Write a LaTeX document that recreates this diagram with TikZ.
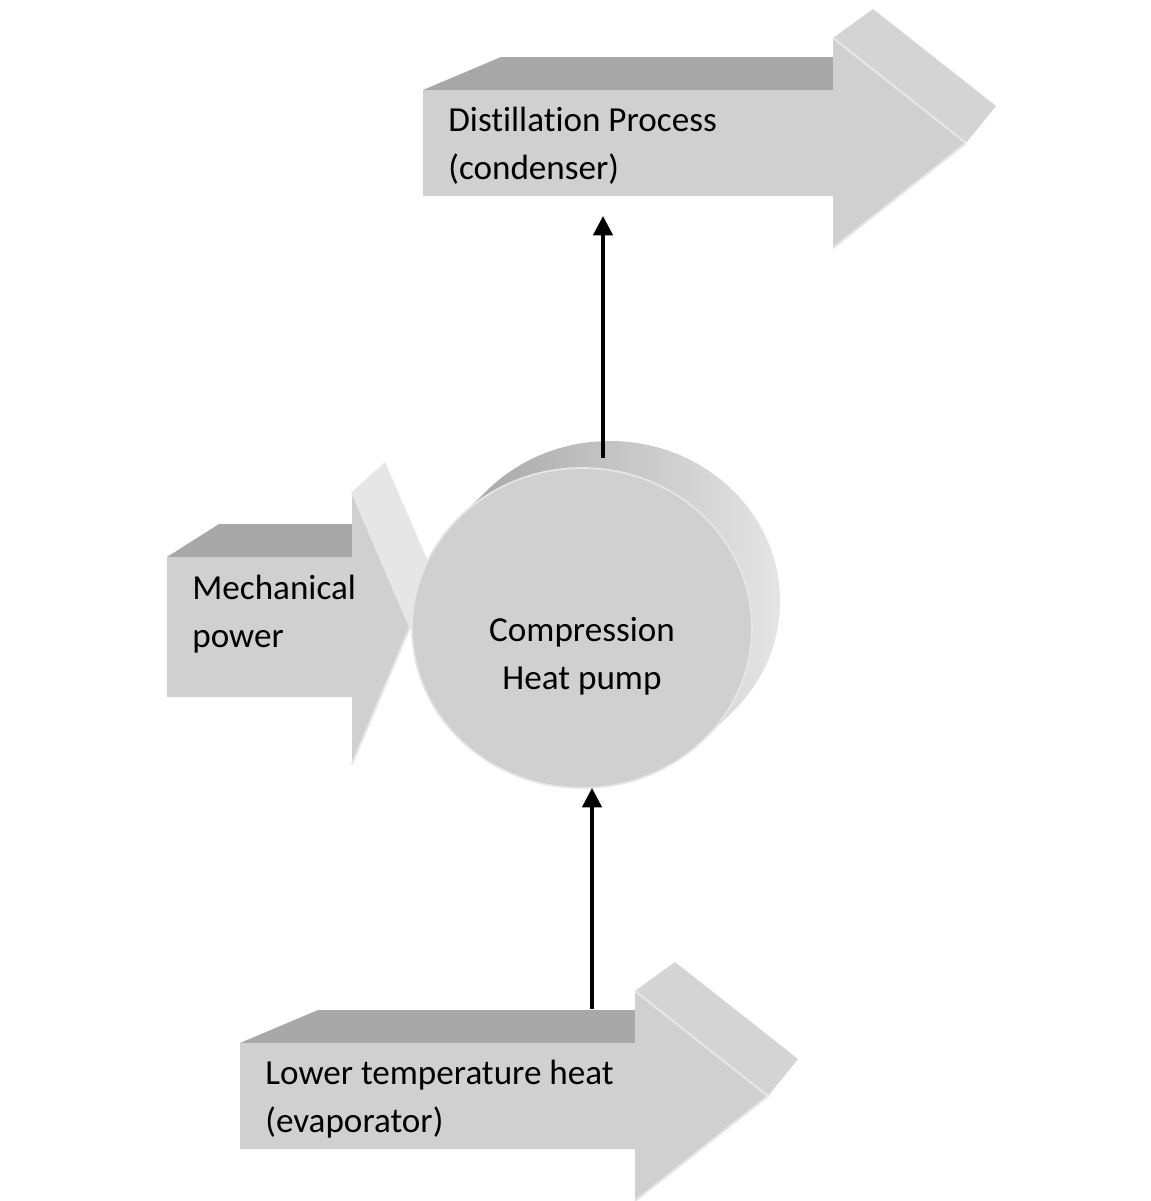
\documentclass[tikz,border=0pt]{standalone}
\usepackage{fontspec}
\setmainfont{Carlito}[Ligatures=NoCommon]
\usetikzlibrary{arrows.meta}
\definecolor{facegray}{HTML}{D0D0D0}
\definecolor{topgray}{HTML}{A8A8A8}
\definecolor{bevelgray}{HTML}{D4D4D4}
\definecolor{edgegray}{HTML}{E6E6E6}
\definecolor{sidedark}{HTML}{A6A6A6}
\definecolor{sidelight}{HTML}{E8E8E8}
\tikzset{
  frontface/.style={fill=facegray},
  topface/.style={fill=topgray},
  bevelface/.style={fill=bevelgray},
  edgeline/.style={draw=edgegray, line width=1.2pt, line join=round},
  boxtext/.style={font=\fontsize{20pt}{27.3pt}\selectfont, inner sep=0pt, align=left},
  flow/.style={-{Triangle[width=11pt,length=11pt]}, line width=2pt}
}
\begin{document}
\begin{tikzpicture}[x=0.02cm, y=-0.02cm]
        \useasboundingbox (0,0) rectangle (1151,1201);
        \fill[white] (0,0) rectangle (1151,1201);
        % output arrows (condenser, evaporator)
        \foreach \lx/\hx/\cy in {423/833/143, 240/635/1096} {
                \fill[topface] (\lx,\cy-53) -- (\lx+78,\cy-86) -- (\hx+5,\cy-86) -- (\hx+5,\cy-53) -- cycle;
                \fill[bevelface] (\hx,\cy-105) -- (\hx+40,\cy-134) -- (\hx+163,\cy-37) -- (\hx+133,\cy) -- cycle;
                \fill[frontface] (\lx,\cy-53) -- (\hx,\cy-53) -- (\hx,\cy-105) -- (\hx+133,\cy)
                        -- (\hx,\cy+105) -- (\hx,\cy+53) -- (\lx,\cy+53) -- cycle;
                \draw[edgeline] (\hx,\cy-105) -- (\hx+133,\cy) -- (\hx,\cy+105);
            }
        % mechanical power arrow
        \fill[topface] (167,557) -- (219,524) -- (356,524) -- (356,557) -- cycle;
        \fill[fill=edgegray] (352,492) -- (385,462) -- (443,596) -- (410,627) -- cycle;
        \fill[frontface] (167,557) -- (352,557) -- (352,492) -- (410,627) -- (352,764) -- (352,697) -- (167,697) -- cycle;
        \draw[edgeline] (352,492) -- (410,627) -- (352,764);
        % heat pump cylinder
        \coordinate (front) at (582,628);
        \coordinate (back) at (610,601);
        \shade[left color=sidedark, right color=sidelight]
                ([shift={(back)}]44.3:170 and 160) arc[start angle=44.3, end angle=-135.7, x radius=170, y radius=160]
                -- ([shift={(front)}]-135.7:170 and 160) -- ([shift={(front)}]44.3:170 and 160) -- cycle;
        \filldraw[fill=facegray, draw=edgegray, line width=1pt] (front) ellipse [x radius=170, y radius=160];
        % texts
        \node[boxtext, anchor=west] (condenser) at (448,146) {Distillation Process\\(condenser)};
        \node[boxtext, anchor=west] (mech) at (192,614) {Mechanical\\power};
        \node[boxtext, align=center] (pump) at (582,656) {Compression\\Heat pump};
        \node[boxtext, anchor=west] (evap) at (265,1099) {Lower temperature heat\\(evaporator)};
        % connectors
        \coordinate (pumptop) at (603,458);
        \coordinate (condin) at (603,216);
        \coordinate (evapout) at (592,1009);
        \coordinate (pumpbot) at (592,788);
        \draw[flow] (pumptop) -- (condin);
        \draw[flow] (evapout) -- (pumpbot);
    \end{tikzpicture}
\end{document}
